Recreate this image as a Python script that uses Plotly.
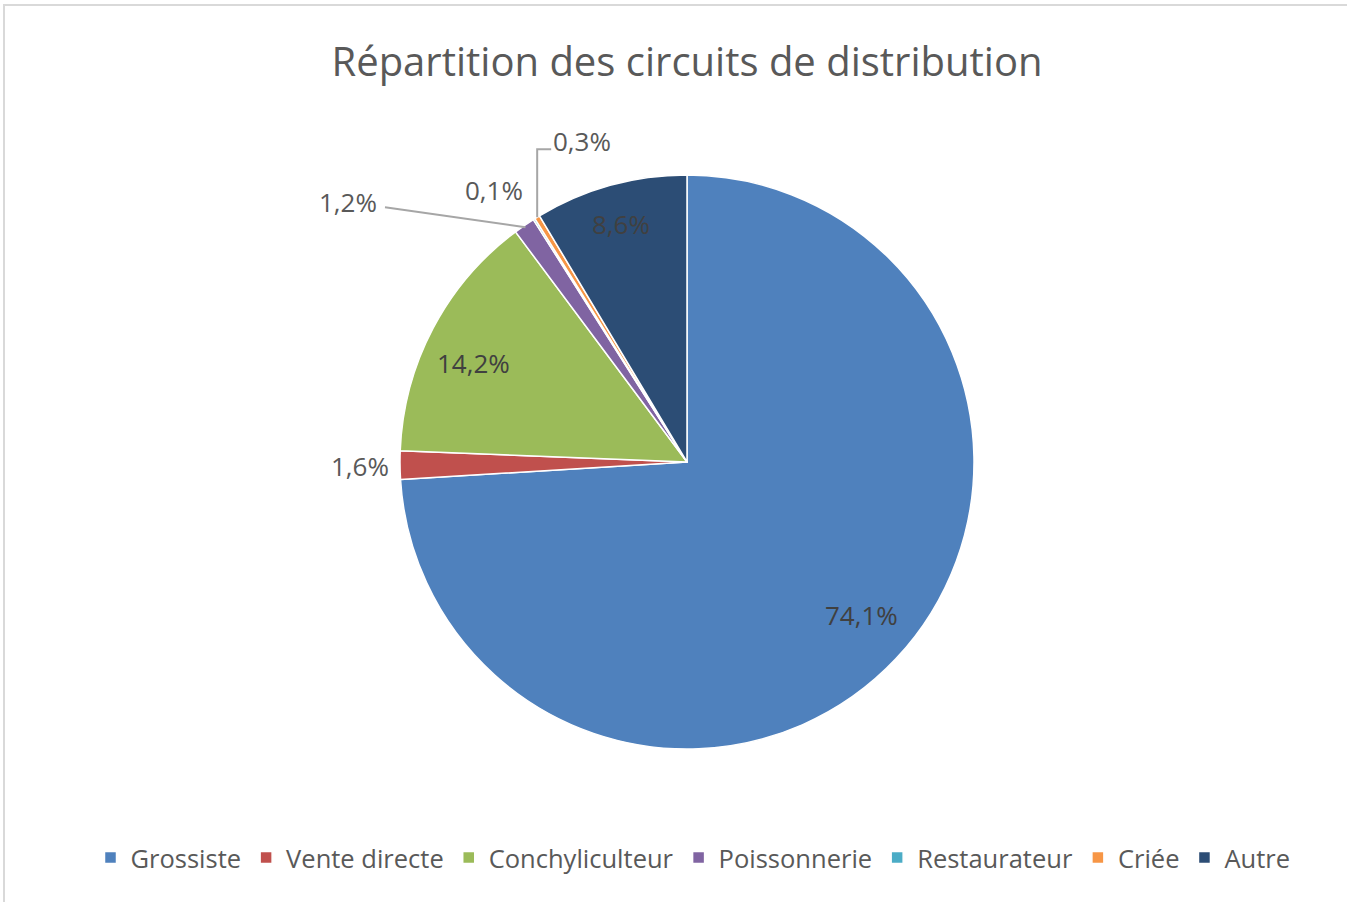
import math
import plotly.graph_objects as go

categories = ["Grossiste", "Vente directe", "Conchyliculteur", "Poissonnerie", "Restaurateur", "Criée", "Autre"]
values = [74.1, 1.6, 14.2, 1.2, 0.1, 0.3, 8.6]
labels = ["74,1%", "1,6%", "14,2%", "1,2%", "0,1%", "0,3%", "8,6%"]
colors = ["#4F81BD", "#C0504D", "#9BBB59", "#8064A2", "#4BACC6", "#F79646", "#2C4D75"]

W, H = 1347, 902
CX, CY, R = 687, 462, 287
FONT = "Open Sans"
TXT = "#595959"
LBL = 26


def px(x):
    return x / W


def py(y):
    return 1 - y / H


fig = go.Figure()
fig.add_trace(go.Pie(
    labels=categories, values=values, sort=False, direction="clockwise", rotation=0,
    marker=dict(colors=colors, line=dict(color="white", width=1.5)),
    textinfo="none", hoverinfo="label+percent",
    domain=dict(x=[px(CX - R), px(CX + R)], y=[py(CY + R), py(CY - R)]),
))

total = sum(values)
mids = []
cum = 0
for v in values:
    mids.append((cum + v / 2) / total * 2 * math.pi)
    cum += v


def pt(i, r, shift=0.0):
    a = mids[i] + math.radians(shift)
    return CX + r * math.sin(a), CY - r * math.cos(a)


def label(x, y, text, color=TXT, anchor="center"):
    return dict(x=px(x), y=py(y), xref="paper", yref="paper", text=text, xanchor=anchor,
                yanchor="middle", showarrow=False, font=dict(family=FONT, size=LBL, color=color))


annotations = []
shapes = []
for i, f, s in ((0, 0.81, -2.0), (2, 0.82, -3.0), (6, 0.86, 0.0)):
    x, y = pt(i, R * f, s)
    annotations.append(label(x, y, labels[i], color="#404040"))

# Vente directe: outside, no leader
x, y = pt(1, R + 40)
annotations.append(label(x, y, labels[1]))

# Poissonnerie: straight leader line to the left
x0, y0 = pt(3, R - 2)
lx, ly = 385, y0 - 20
shapes.append(dict(type="path", xref="paper", yref="paper",
                   path=f"M {px(x0)} {py(y0)} L {px(lx)} {py(ly)}",
                   line=dict(color="#A6A6A6", width=2)))
annotations.append(label(lx - 6, ly - 5, labels[3], anchor="right"))

# Restaurateur: outside, no leader
x, y = pt(4, R + 40)
annotations.append(label(x - 19, y + 5, labels[4]))

# Criée: elbow leader line
x0, y0 = pt(5, R)
ey = y0 - 68
shapes.append(dict(type="path", xref="paper", yref="paper",
                   path=f"M {px(x0)} {py(y0)} L {px(x0)} {py(ey)} L {px(x0 + 14)} {py(ey)}",
                   line=dict(color="#A6A6A6", width=2)))
annotations.append(label(x0 + 14, ey - 8, labels[5], anchor="left"))

# chart border
shapes.append(dict(type="rect", xref="paper", yref="paper", x0=px(4), y0=py(H + 20), x1=px(W + 20), y1=py(5),
                   line=dict(color="#D9D9D9", width=2), fillcolor="rgba(0,0,0,0)", layer="below"))

fig.update_layout(
    width=W, height=H, margin=dict(l=0, r=0, t=0, b=0),
    paper_bgcolor="white", plot_bgcolor="white",
    title=dict(text="Répartition des circuits de distribution", x=px(687), xanchor="center",
               y=py(62), yanchor="middle", font=dict(family=FONT, size=40, color=TXT)),
    showlegend=True,
    legend=dict(orientation="h", x=px(693), xanchor="center", y=py(858), yanchor="middle",
                font=dict(family=FONT, size=25.5, color=TXT), itemwidth=30, traceorder="normal"),
    annotations=annotations, shapes=shapes,
)
fig.write_html("out.html", config={"displayModeBar": False},
               post_script="document.body.style.margin='0';document.body.style.overflow='hidden';")
